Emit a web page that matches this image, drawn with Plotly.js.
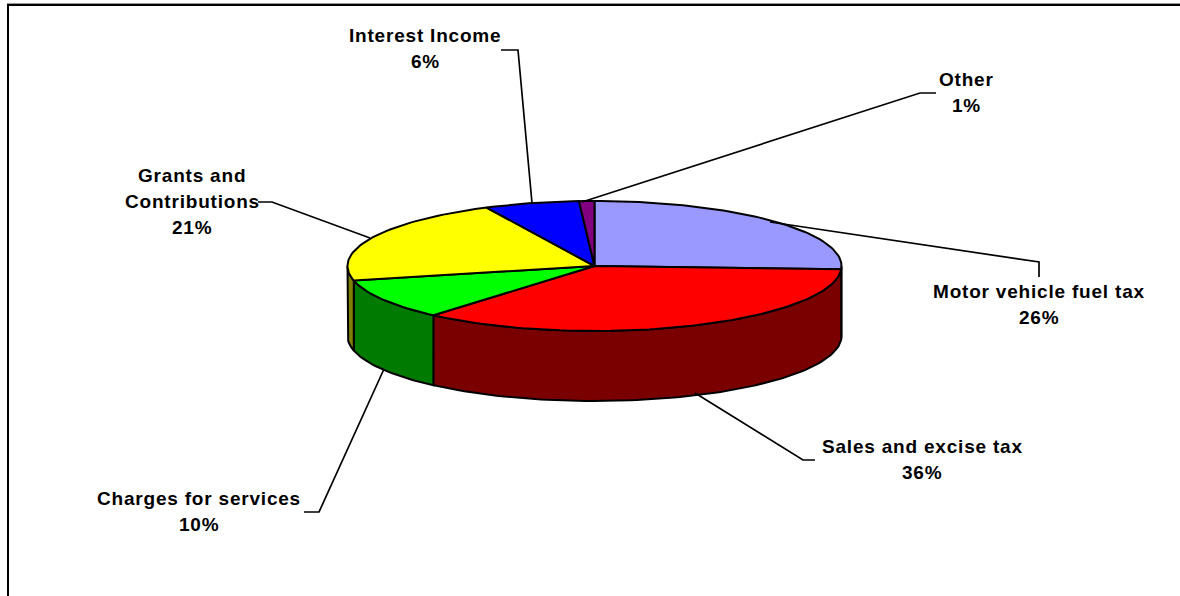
<!DOCTYPE html>
<html>
<head>
<meta charset="utf-8">
<script src="https://cdn.plot.ly/plotly-3.0.1.min.js"></script>
<style>html,body{margin:0;padding:0;background:#fff}#chart{width:1180px;height:596px}
.annotation-text{letter-spacing:0.8px}</style>
</head>
<body>
<div id="chart"></div>
<script>
// Data
const categories = ["Motor vehicle fuel tax", "Sales and excise tax", "Charges for services", "Grants and|Contributions", "Interest Income", "Other"];
const shares = [25.8, 35.51, 10.09, 21.4, 6.2, 1.0];
const topColors = ["#9999FF", "#FF0000", "#00FF00", "#FFFF00", "#0000FF", "#800080"];
const sideColors = ["#000000", "#7A0000", "#007A00", "#808000", "#00007A", "#400040"];

// Geometry of the tilted pie (pixel-scaled axes)
const cx = 594.5, cy = 266, rx = 247, ry = 65, depth = 70;
// Label centres (first line y) and line step
const labelPos = [[1039, 291.5], [922, 446.5], [199, 498.5], [192, 175.5], [425, 35.5], [966, 79.5]];
const lineStep = 26;
// Leader polylines
const leaderX = [[770, 1039, 1039], [695, 803, 815], [384, 319, 304], [370, 272, 258], [532, 518, 501], [582, 920, 936]];
const leaderY = [[222, 262, 277], [393, 460, 460], [369, 512, 512], [238, 202, 202], [203, 50, 50], [202, 93, 93]];

const rad = d => d * Math.PI / 180;
const px = a => cx + rx * Math.sin(rad(a));
const py = (a, dz) => cy - ry * Math.cos(rad(a)) + (dz || 0);
function arc(a0, a1, dz) {
  const n = Math.max(2, Math.ceil(Math.abs(a1 - a0) / 1.5));
  const xs = [], ys = [];
  for (let i = 0; i <= n; i++) {
    const a = a0 + (a1 - a0) * i / n;
    xs.push(px(a)); ys.push(py(a, dz));
  }
  return [xs, ys];
}
const total = shares.reduce((s, v) => s + v, 0);
let run = 0;
const spans = shares.map(v => { const s = [run, run + v * 360 / total]; run = s[1]; return s; });

const traces = [];
const poly = (x, y, fill, w) => traces.push({
  type: "scatter", mode: "lines", x, y, fill: "toself", fillcolor: fill,
  line: {color: "#000", width: w, shape: "linear"}, hoverinfo: "skip", showlegend: false
});

// Visible rim: the front half only
spans.forEach((s, i) => {
  const a0 = Math.max(s[0], 90), a1 = Math.min(s[1], 270);
  if (a1 <= a0) return;
  const t = arc(a0, a1, 0), b = arc(a1, a0, depth);
  poly(t[0].concat(b[0], [t[0][0]]), t[1].concat(b[1], [t[1][0]]), sideColors[i], 2);
});
// Top face
spans.forEach((s, i) => {
  const t = arc(s[0], s[1], 0);
  poly([cx].concat(t[0], [cx]), [cy].concat(t[1], [cy]), topColors[i], 2);
});
// Leaders
leaderX.forEach((x, i) => traces.push({
  type: "scatter", mode: "lines", x, y: leaderY[i],
  line: {color: "#000", width: 1.7}, hoverinfo: "skip", showlegend: false
}));

// Labels
const annotations = [];
categories.forEach((c, i) => {
  const lines = c.split("|").concat([Math.round(shares[i] * 100 / total) + "%"]);
  lines.forEach((t, k) => annotations.push({
    x: labelPos[i][0], y: labelPos[i][1] + k * lineStep, xref: "x", yref: "y",
    text: "<b>" + t + "</b>", showarrow: false, xanchor: "center", yanchor: "middle",
    font: {family: "Liberation Sans, Arial, sans-serif", size: 19, color: "#000"}
  }));
});

const hidden = {visible: false, fixedrange: true};
Plotly.newPlot("chart", traces, {
  width: 1180, height: 596,
  margin: {l: 0, r: 0, t: 0, b: 0},
  paper_bgcolor: "#fff", plot_bgcolor: "#fff",
  xaxis: Object.assign({range: [0, 1180]}, hidden),
  yaxis: Object.assign({range: [596, 0]}, hidden),
  annotations,
  shapes: [
    {type: "line", xref: "x", yref: "y", x0: 7, y0: 3.5, x1: 1180, y1: 3.5, line: {color: "#999", width: 1}},
    {type: "line", xref: "x", yref: "y", x0: 7.5, y0: 5, x1: 1180, y1: 5, line: {color: "#000", width: 2}},
    {type: "line", xref: "x", yref: "y", x0: 8, y0: 4, x1: 8, y1: 596, line: {color: "#000", width: 2}}
  ]
}, {displayModeBar: false, staticPlot: true});
</script>
</body>
</html>
